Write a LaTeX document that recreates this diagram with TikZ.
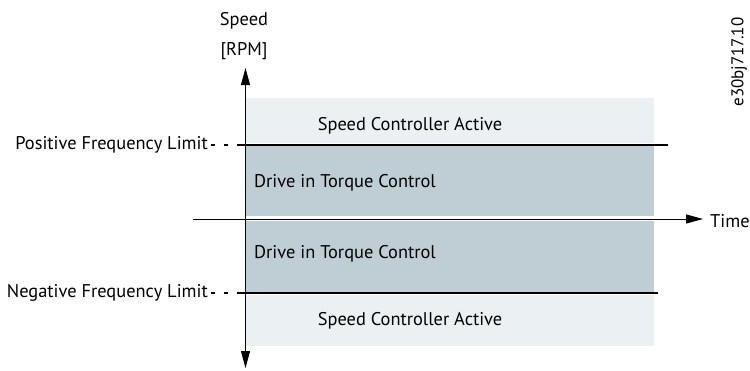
\documentclass[tikz,border=0pt]{standalone}
\usepackage{fontspec}
\setmainfont{PT Sans}
\usetikzlibrary{positioning,arrows.meta}
\definecolor{zonelight}{RGB}{235,240,242}
\definecolor{zonedark}{RGB}{191,206,213}
\begin{document}
\begin{tikzpicture}[x=1pt, y=-1pt, >={Triangle[length=17pt,width=9pt]},
  every node/.style={font=\fontsize{18.4}{22}\selectfont, inner sep=0pt},
  zone/.style={anchor=north west, minimum width=408pt},
  limit/.style={line width=1.1pt},
  axis/.style={line width=0.9pt}]
\useasboundingbox (0,0) rectangle (750,370);
% bands
\node[zone, fill=zonelight, minimum height=45pt] (sptop) at (246,98) {};
\node[zone, fill=zonedark, minimum height=70pt] (tqtop) at (246,146) {};
\node[zone, fill=zonedark, minimum height=71pt] (tqbot) at (246,221) {};
\node[zone, fill=zonelight, minimum height=51pt] (spbot) at (246,295) {};
% band texts
\node (sptxt1) at (410,126) {Speed Controller Active};
\node[anchor=west] (tqtxt1) at (254,183) {Drive in Torque Control};
\node[anchor=west] (tqtxt2) at (254,254) {Drive in Torque Control};
\node (sptxt2) at (410,321) {Speed Controller Active};
% limits
\node[anchor=east] (poslbl) at (208,145) {Positive Frequency Limit};
\node[anchor=east] (neglbl) at (208,293) {Negative Frequency Limit};
\coordinate (posa) at (237,145);
\coordinate (posb) at (668,145);
\coordinate (nega) at (237,293);
\coordinate (negb) at (658,293);
\draw[limit] (posa) -- (posb);
\draw[limit] (nega) -- (negb);
\draw[limit, dash pattern=on 4pt off 9pt] (poslbl.east) ++(3,0) -- (posa);
\draw[limit, dash pattern=on 4pt off 9pt] (neglbl.east) ++(3,0) -- (nega);
% axes
\coordinate (ybot) at (245.5,368);
\coordinate (ytop) at (245.5,68);
\coordinate (tleft) at (193,219);
\coordinate (tright) at (703,219);
\draw[axis,<->] (ybot) -- (ytop);
\draw[axis,->] (tleft) -- (tright);
\node[anchor=west] (tlbl) at (710,221) {Time};
\node (ylbl) at (244,21) {Speed};
\node (yunit) at (244,51) {[RPM]};
\node[rotate=90, font=\fontsize{17}{20}\selectfont] (figid) at (739,62) {e30bj717.10};
\end{tikzpicture}
\end{document}
